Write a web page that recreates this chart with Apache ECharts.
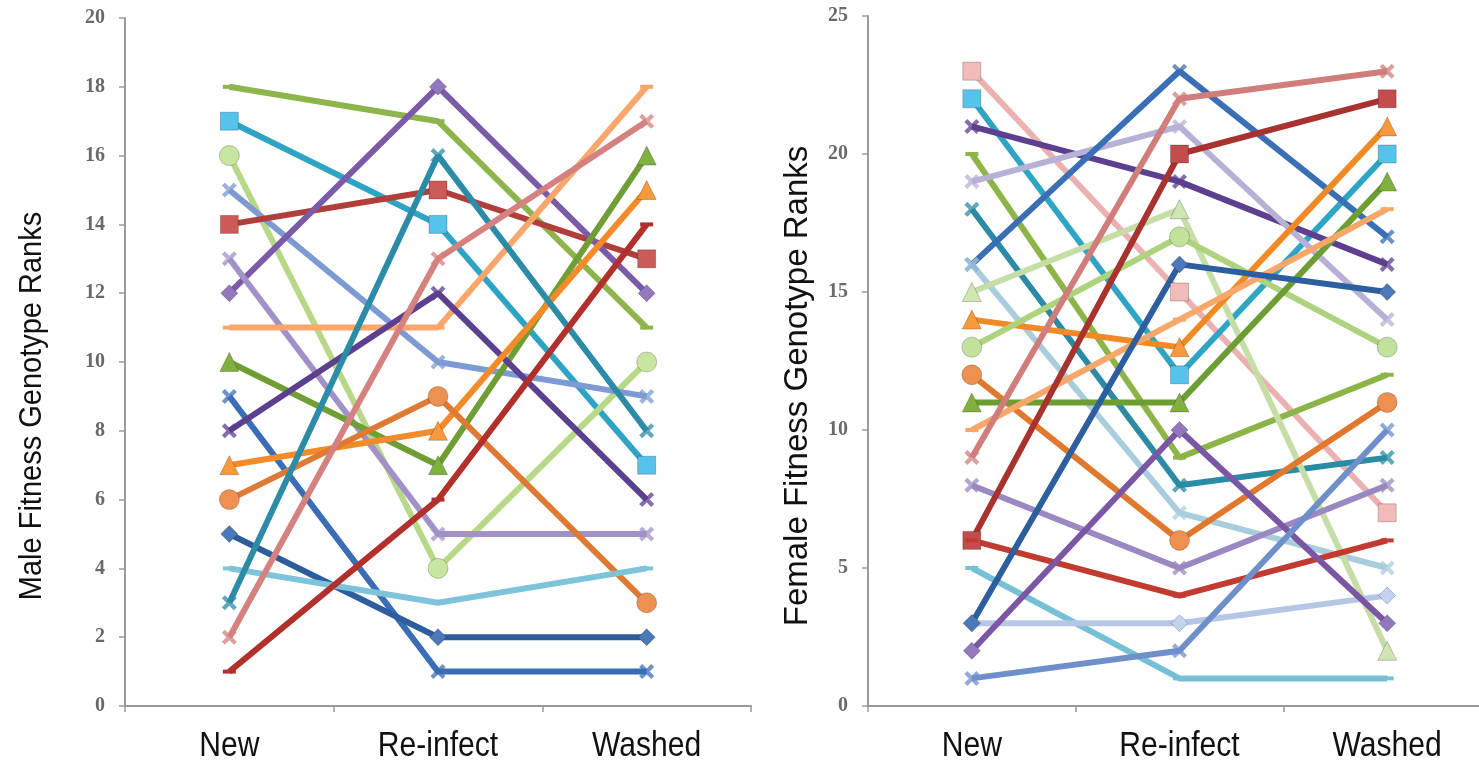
<!DOCTYPE html>
<html>
<head>
<meta charset="utf-8">
<script src="https://cdn.jsdelivr.net/npm/echarts@6/dist/echarts.min.js"></script>
<style>
html,body{margin:0;padding:0;background:#fff;}
#c{width:1479px;height:765px;}
</style>
</head>
<body>
<div id="c"></div>
<script>
// ---------- DATA ----------
const categories = ['New', 'Re-infect', 'Washed'];
const maleTicks = { min: 0, max: 20, interval: 2 };
const femaleTicks = { min: 0, max: 25, interval: 5 };
const maleTitle = 'Male Fitness Genotype Ranks';
const femaleTitle = 'Female Fitness Genotype Ranks';

// Male genotype ranks: [New, Re-infect, Washed]
const maleRanks = [
  [18, 17, 11],
  [17, 14, 7],
  [16, 4, 10],
  [15, 10, 9],
  [14, 15, 13],
  [12, 18, 12],
  [13, 5, 5],
  [11, 11, 18],
  [10, 7, 16],
  [9, 1, 1],
  [8, 12, 6],
  [7, 8, 15],
  [6, 9, 3],
  [5, 2, 2],
  [4, 3, 4],
  [3, 16, 8],
  [2, 13, 17],
  [1, 6, 14]
];

// Female genotype ranks: [New, Re-infect, Washed]
const femaleRanks = [
  [23, 15, 7],
  [22, 12, 20],
  [21, 19, 16],
  [20, 9, 12],
  [19, 21, 14],
  [18, 8, 9],
  [16, 23, 17],
  [16, 7, 5],
  [15, 18, 2],
  [14, 13, 21],
  [13, 17, 13],
  [12, 6, 11],
  [11, 11, 19],
  [10, 14, 18],
  [9, 22, 23],
  [8, 5, 8],
  [6, 20, 22],
  [6, 4, 6],
  [5, 1, 1],
  [3, 3, 4],
  [3, 16, 15],
  [2, 10, 3],
  [1, 2, 10]
];

// ---------- STYLES ----------
const X_SYM = 'path://M2,0 L5,3 L8,0 L10,2 L7,5 L10,8 L8,10 L5,7 L2,10 L0,8 L3,5 L0,2 Z';
const DASH_SYM = 'path://M0,0 H10 V3 H0 Z';
const SYM = { rect: 'rect', circle: 'circle', diamond: 'diamond', tri: 'triangle', x: X_SYM, dash: DASH_SYM };
const SYM_SIZE = { rect: 18, circle: 20, diamond: 17, tri: 19, x: 15, dash: [13, 4] };

const maleStyle = [
  ['#8EB44C', 'dash'],
  ['#2FA3C4', 'rect', '#55C3EA'],
  ['#B7D987', 'circle', '#C8E6A0'],
  ['#7E9AD2', 'x'],
  ['#B23E3C', 'rect', '#CC5A57'],
  ['#7B5BA8', 'diamond', '#9378BE'],
  ['#A290C8', 'x'],
  ['#F9A66C', 'dash'],
  ['#6F9E34', 'tri', '#7FB040'],
  ['#3B6DB6', 'x'],
  ['#5C3F8E', 'x'],
  ['#F48B2A', 'tri', '#F89A3C'],
  ['#DE7A33', 'circle', '#EE9050'],
  ['#2D5D9C', 'diamond', '#4A78B8'],
  ['#7DC3D9', 'dash'],
  ['#2C8BA7', 'x'],
  ['#D4817F', 'x'],
  ['#B1302C', 'dash']
];

const femaleStyle = [
  ['#EBB1B1', 'rect', '#F3BABA'],
  ['#2FA5C6', 'rect', '#55C3EA'],
  ['#5C3F8F', 'x'],
  ['#8CB447', 'dash'],
  ['#B7B1D7', 'x'],
  ['#2B8BA5', 'x'],
  ['#3A6EB5', 'x'],
  ['#A9CDDD', 'x'],
  ['#C6DEA6', 'tri', '#CFE5B2'],
  ['#F08A24', 'tri', '#F89A3C'],
  ['#ADD37C', 'circle', '#C2E19A'],
  ['#E0792D', 'circle', '#EE9050'],
  ['#6D9E33', 'tri', '#7FB040'],
  ['#F8A76B', 'dash'],
  ['#D07D7C', 'x'],
  ['#9A88C2', 'x'],
  ['#A8322E', 'rect', '#C44C4C'],
  ['#C23B30', 'dash'],
  ['#76C0D6', 'dash'],
  ['#B5C7E5', 'diamond', '#C3D3EE'],
  ['#2D5E9E', 'diamond', '#4A78B8'],
  ['#7A56A5', 'diamond', '#9378BE'],
  ['#6F8FCB', 'x']
];

function buildSeries(ranks, styles, idx) {
  return ranks.map((vals, i) => {
    const st = styles[i];
    const color = st[0];
    const kind = st[1];
    const fill = st[2] || color;
    const plain = (kind === 'x' || kind === 'dash');
    return {
      type: 'line',
      xAxisIndex: idx,
      yAxisIndex: idx,
      data: vals,
      symbol: SYM[kind],
      symbolSize: SYM_SIZE[kind],
      showSymbol: true,
      showAllSymbol: true,
      animation: false,
      lineStyle: { color: color, width: 6 },
      itemStyle: {
        color: fill,
        borderColor: plain ? color : 'rgba(0,0,0,0.22)',
        borderWidth: plain ? 0 : 1,
        opacity: kind === 'x' ? 0.75 : 1
      },
      emphasis: { disabled: true }
    };
  });
}

const SANS = "'Liberation Sans', Arial, sans-serif";

function xAxisDef(idx) {
  return {
    type: 'category',
    gridIndex: idx,
    data: categories,
    boundaryGap: true,
    axisLine: { lineStyle: { color: '#9a9a9a', width: 2 } },
    axisTick: { show: true, length: 6, lineStyle: { color: '#9a9a9a', width: 1.5 } },
    axisLabel: { show: false },
    splitLine: { show: false }
  };
}
function yAxisDef(idx, t) {
  return {
    type: 'value',
    gridIndex: idx,
    min: t.min,
    max: t.max,
    interval: t.interval,
    axisLine: { show: true, lineStyle: { color: '#9a9a9a', width: 2 } },
    axisTick: { show: true, length: 6, lineStyle: { color: '#9a9a9a', width: 1.5 } },
    axisLabel: { margin: 20, fontFamily: "'Liberation Serif', 'DejaVu Serif', serif", fontWeight: 'bold', fontSize: 20, color: '#6a6a6a' },
    splitLine: { show: false }
  };
}

const chart = echarts.init(document.getElementById('c'), null, { renderer: 'canvas' });
chart.setOption({
  backgroundColor: '#ffffff',
  animation: false,
  grid: [
    { left: 125, top: 18, width: 626, height: 688, outerBoundsMode: 'none' },
    { left: 868, top: 16, width: 623, height: 690, outerBoundsMode: 'none' }
  ],
  xAxis: [xAxisDef(0), xAxisDef(1)],
  yAxis: [yAxisDef(0, maleTicks), yAxisDef(1, femaleTicks)],
  series: buildSeries(maleRanks, maleStyle, 0).concat(buildSeries(femaleRanks, femaleStyle, 1))
});

// Category labels (condensed look) placed through the axis scales
const gfx = [];
[0, 1].forEach(function (idx) {
  const baseY = chart.convertToPixel({ yAxisIndex: idx }, 0);
  categories.forEach(function (c) {
    const px = chart.convertToPixel({ xAxisIndex: idx }, c);
    gfx.push({
      type: 'text', x: px, y: baseY + 40, scaleX: 0.86,
      style: { text: c, font: '35px ' + SANS, fill: '#111', textAlign: 'center', textVerticalAlign: 'middle' },
      silent: true
    });
  });
});
// Axis titles
const maleMid = (chart.convertToPixel({ yAxisIndex: 0 }, 0) + chart.convertToPixel({ yAxisIndex: 0 }, 20)) / 2;
const femaleMid = (chart.convertToPixel({ yAxisIndex: 1 }, 0) + chart.convertToPixel({ yAxisIndex: 1 }, 25)) / 2;
gfx.push({
  type: 'text', x: 32, y: maleMid + 44, rotation: Math.PI / 2, scaleY: 1.1,
  style: { text: maleTitle, font: '29px ' + SANS, fill: '#111', textAlign: 'center', textVerticalAlign: 'middle' },
  silent: true
});
gfx.push({
  type: 'text', x: 798, y: femaleMid + 25, rotation: Math.PI / 2,
  style: { text: femaleTitle, font: '33px ' + SANS, fill: '#111', textAlign: 'center', textVerticalAlign: 'middle' },
  silent: true
});
chart.setOption({ graphic: gfx });
</script>
</body>
</html>
